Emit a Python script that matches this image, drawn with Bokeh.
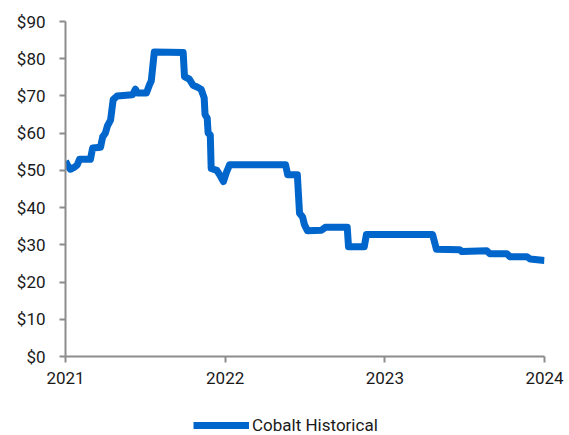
import pandas as pd
from bokeh.plotting import figure
from bokeh.layouts import column
from bokeh.models import (Range1d, FixedTicker, NumeralTickFormatter, DatetimeTickFormatter,
                          Legend, LegendItem, ColumnDataSource)
from bokeh.embed import file_html
from bokeh.resources import INLINE

dates = ["2021-01-01","2021-01-05","2021-01-12","2021-01-21","2021-01-28","2021-02-02","2021-02-27",
         "2021-03-04","2021-03-22","2021-03-27","2021-04-02","2021-04-07","2021-04-14","2021-04-20",
         "2021-04-29","2021-06-03","2021-06-10","2021-06-14","2021-07-05","2021-07-12","2021-07-16",
         "2021-07-23","2021-09-27","2021-09-30","2021-10-11","2021-10-20","2021-10-27","2021-11-07",
         "2021-11-14","2021-11-16","2021-11-21","2021-11-23","2021-11-28","2021-11-30","2021-12-13",
         "2021-12-21","2021-12-28","2022-01-04","2022-01-11","2022-05-19","2022-05-24","2022-06-15",
         "2022-06-20","2022-06-27","2022-07-01","2022-07-08","2022-08-09","2022-08-18","2022-10-07",
         "2022-10-10","2022-11-15","2022-11-20","2023-04-20","2023-04-29","2023-06-21","2023-06-26",
         "2023-08-22","2023-08-29","2023-10-07","2023-10-14","2023-11-22","2023-11-29","2024-01-01"]
cobalt = [52.5, 51.5, 50.3, 50.8, 51.5, 53.0, 53.0, 56.0, 56.2, 59.0, 60.0, 62.0, 63.5, 69.0, 70.0,
          70.3, 71.8, 70.8, 70.8, 73.0, 74.0, 81.8, 81.7, 75.2, 74.5, 72.8, 72.5, 71.8, 69.5, 65.0,
          64.0, 60.0, 59.5, 50.5, 50.0, 48.5, 47.0, 49.5, 51.5, 51.5, 48.8, 48.8, 38.5, 37.5, 35.5,
          33.8, 33.9, 34.7, 34.7, 29.5, 29.5, 32.8, 32.8, 28.8, 28.7, 28.2, 28.4, 27.6, 27.6, 26.8,
          26.8, 26.2, 25.8]
year_ticks = ["2021-01-01", "2022-01-01", "2023-01-01", "2024-01-01"]
y_ticks = [0, 10, 20, 30, 40, 50, 60, 70, 80, 90]
series_name = "Cobalt Historical"

LINE_COLOR = "#0066cc"
FONT = "Roboto"

src = ColumnDataSource(dict(x=pd.to_datetime(dates), y=cobalt))
tick_ms = [pd.Timestamp(t).value / 1e6 for t in year_ticks]

p = figure(x_axis_type="datetime", output_backend="svg", toolbar_location=None,
           frame_width=479, frame_height=335,
           min_border_left=65, min_border_right=25, min_border_top=21, min_border_bottom=54,
           x_range=Range1d(tick_ms[0], tick_ms[-1]), y_range=Range1d(0, 90))
p.outline_line_color = None
p.grid.visible = False
p.background_fill_color = "white"
p.border_fill_color = "white"

p.line("x", "y", source=src, line_color=LINE_COLOR, line_width=7,
       line_join="round", line_cap="butt")

p.xaxis.ticker = FixedTicker(ticks=tick_ms)
p.xaxis.formatter = DatetimeTickFormatter(years="%Y", months="%Y", days="%Y", hours="%Y")
p.yaxis.ticker = FixedTicker(ticks=y_ticks)
p.yaxis.formatter = NumeralTickFormatter(format="$0")

for ax in (p.xaxis[0], p.yaxis[0]):
    ax.axis_line_color = "#8c8c8c"
    ax.axis_line_width = 2
    ax.major_tick_line_color = "#8c8c8c"
    ax.major_tick_line_width = 2
    ax.major_tick_in = 0
    ax.major_tick_out = 6
    ax.minor_tick_line_color = None
    ax.major_label_text_font = FONT
    ax.major_label_text_font_size = "17px"
    ax.major_label_text_color = "#1a1a1a"
p.yaxis.major_label_standoff = 14
p.xaxis.major_label_standoff = 9

# legend strip below the chart (its series lies outside this strip's ranges,
# so only the legend entry is seen)
p2 = figure(width=569, height=25, output_backend="svg", toolbar_location=None,
            x_axis_type=None, y_axis_type=None,
            min_border_left=0, min_border_right=0, min_border_top=0, min_border_bottom=0,
            x_range=Range1d(0, 1), y_range=Range1d(0, 1))
p2.outline_line_color = None
p2.grid.visible = False
p2.background_fill_color = "white"
p2.border_fill_color = "white"
leg_r = p2.line("x", "y", source=src, line_color=LINE_COLOR, line_width=7, line_cap="butt")

legend = Legend(items=[LegendItem(label=series_name, renderers=[leg_r])],
                location=(128, 0), orientation="horizontal",
                padding=0, margin=0, spacing=0,
                glyph_width=56, glyph_height=20, label_standoff=3,
                label_text_font=FONT, label_text_font_size="17px",
                label_text_color="#1a1a1a",
                border_line_color=None, background_fill_alpha=0)
p2.add_layout(legend, "center")

layout = column(p, p2, spacing=0)
open("out.html", "w").write(file_html(layout, INLINE))
